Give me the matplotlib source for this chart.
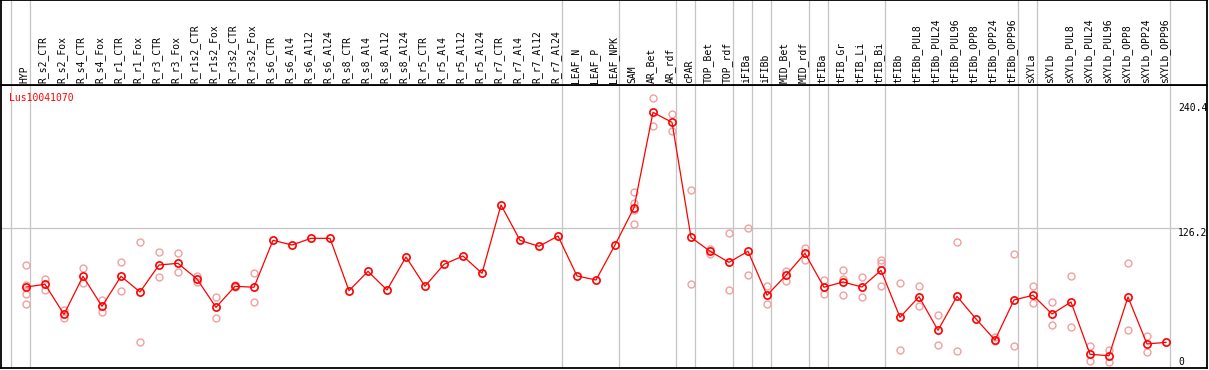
import matplotlib
matplotlib.use("Agg")
import matplotlib.pyplot as plt

labels = ["HYP", "R_s2_CTR", "R_s2_Fox", "R_s4_CTR", "R_s4_Fox", "R_r1_CTR", "R_r1_Fox",
          "R_r3_CTR", "R_r3_Fox", "R_r1s2_CTR", "R_r1s2_Fox", "R_r3s2_CTR", "R_r3s2_Fox",
          "R_s6_CTR", "R_s6_Al4", "R_s6_Al12", "R_s6_Al24", "R_s8_CTR", "R_s8_Al4",
          "R_s8_Al12", "R_s8_Al24", "R_r5_CTR", "R_r5_Al4", "R_r5_Al12", "R_r5_Al24",
          "R_r7_CTR", "R_r7_Al4", "R_r7_Al12", "R_r7_Al24", "LEAF_N", "LEAF_P", "LEAF_NPK",
          "SAM", "AR_Bet", "AR_rdf", "cPAR", "TOP_Bet", "TOP_rdf", "iFIBa", "iFIBb",
          "MID_Bet", "MID_rdf", "tFIBa", "tFIB_Gr", "tFIB_Li", "tFIB_Bi", "tFIBb",
          "tFIBb_PUL8", "tFIBb_PUL24", "tFIBb_PUL96", "tFIBb_OPP8", "tFIBb_OPP24",
          "tFIBb_OPP96", "sXYLa", "sXYLb", "sXYLb_PUL8", "sXYLb_PUL24", "sXYLb_PUL96",
          "sXYLb_OPP8", "sXYLb_OPP24", "sXYLb_OPP96"]

means = [72.7, 75.2, 47.8, 82.5, 55.1, 82.5, 68.2, 92.8, 94.3, 80.0, 54.2, 73.4, 72.5,
         115.3, 111.0, 117.1, 117.1, 69.4, 87.0, 70.0, 100.1, 73.4, 93.4, 101.0, 85.2,
         147.5, 115.3, 109.8, 119.2, 82.8, 79.1, 111.0, 145.0, 231.9, 222.8, 118.0,
         105.3, 95.2, 105.3, 65.2, 83.4, 103.4, 72.5, 77.3, 72.7, 87.9, 45.1, 63.9,
         33.3, 64.2, 43.6, 24.4, 60.9, 65.2, 48.1, 59.1, 11.4, 10.1, 63.6, 20.8, 22.3]

replicates = [[92.8, 74.8, 66.3, 57.0], [80.0, 70.3], [51.5, 44.5], [89.8, 76.1],
              [60.9, 49.7], [95.2, 69.1], [113.5, 22.3], [104.6, 81.6], [103.7, 86.4],
              [82.5, 77.6], [63.9, 44.5], [74.3, 72.5], [85.2, 58.8],
              [], [], [], [], [], [], [], [], [], [], [], [], [], [], [], [], [], [], [],
              [159.0, 149.6, 143.2, 129.9], [244.7, 219.2], [230.1, 214.6],
              [160.9, 75.2], [107.4, 102.5], [121.9, 69.7], [126.2, 83.4], [73.6, 57.0],
              [87.3, 78.5], [108.3, 97.6], [79.1, 66.1], [87.9, 79.7, 65.2],
              [81.6, 63.9], [97.6, 94.9, 73.4], [76.1, 15.0], [73.4, 55.1],
              [46.9, 19.9], [113.7, 14.1], [], [26.9, 23.2], [102.5, 19.0],
              [73.4, 57.9], [59.1, 37.8], [82.5, 36.3], [19.0, 5.0], [15.6, 4.1],
              [94.3, 33.3], [28.1, 13.2], []]

# group separators come after these column indices
group_ends = [-1, 0, 28, 31, 34, 35, 37, 38, 39, 41, 42, 45, 52, 53, 60]
gene = "Lus10041070"
y_ticks = [240.4, 126.2]

W, H = 1209, 370
fig = plt.figure(figsize=(W / 100, H / 100), dpi=100)

xlim = ((1 - 26) / 19, (1207 - 26) / 19)
ylim = ((366.8 - 368) / 1.0972, (366.8 - 85) / 1.0972)

ax = fig.add_axes([1 / W, (H - 368) / H, 1206 / W, 283 / H])
top = fig.add_axes([1 / W, (H - 85) / H, 1206 / W, 85 / H])

for a in (ax, top):
    a.set_xlim(*xlim)
    a.set_xticks([])
    a.set_yticks([])
    for s in a.spines.values():
        s.set_linewidth(1.3)
        s.set_color("black")
    for b in group_ends:
        a.axvline(b + 0.21, color="#c4c4c4", lw=0.9, zorder=0)

top.set_ylim(0, 85)
ax.set_ylim(*ylim)

mono = "DejaVu Sans Mono"
for i, lab in enumerate(labels):
    top.text(i - 0.1, 2, lab, rotation=90, ha="center", va="bottom",
             fontsize=7, family=mono)

# horizontal reference line
ax.plot([xlim[0], (1178 - 26) / 19], [126.2, 126.2], color="#c4c4c4", lw=0.9,
        zorder=0, clip_on=False)

xs = list(range(len(labels)))
px, py = [], []
for i, reps in enumerate(replicates):
    for v in reps:
        px.append(i)
        py.append(v)
ax.plot(px, py, "o", ms=5, mfc="none", mec="#f0a0a0", mew=1.0, zorder=2)
ax.plot(xs, means, "-", color="red", lw=0.9, zorder=3)
ax.plot(xs, means, "o", ms=5.2, mfc="none", mec="red", mew=1.2, zorder=4)

xr = (1178 - 26) / 19
for v in y_ticks:
    ax.text(xr, v, str(v), ha="left", va="top", fontsize=7, family=mono,
            clip_on=False, zorder=5)
ax.text(xr, 1.2, "0", ha="left", va="baseline", fontsize=7, family=mono, zorder=5)

ax.text((9.3 - 26) / 19, (366.8 - 93) / 1.0972, gene, color="red", ha="left",
        va="top", fontsize=7, family=mono)

fig.savefig("out.png", dpi=100)
